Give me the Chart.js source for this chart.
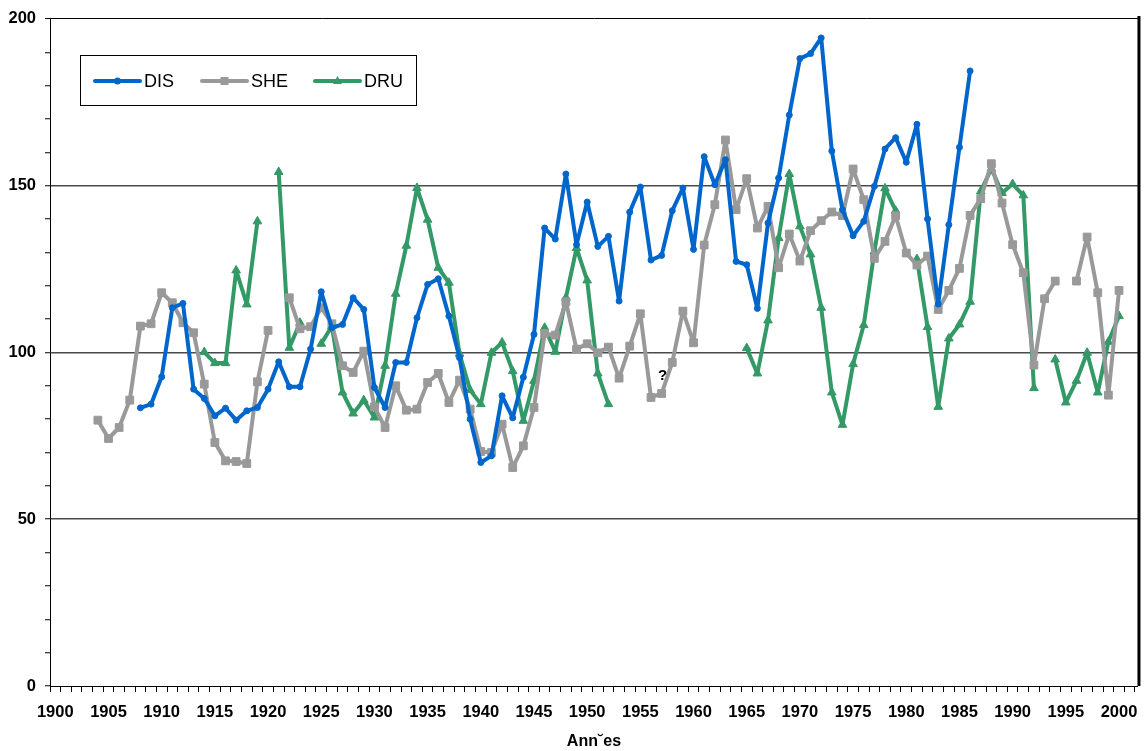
<!DOCTYPE html>
<html>
<head>
<meta charset="utf-8">
<title>DIS SHE DRU</title>
<script src="https://cdn.jsdelivr.net/npm/chart.js@4/dist/chart.umd.min.js"></script>
<style>
  html, body { margin: 0; padding: 0; background: #fff; }
  #wrap { width: 1146px; height: 751px; }
</style>
</head>
<body>
<div id="wrap"><canvas id="chart" width="1146" height="751"></canvas></div>
<script>
// years on the axis that carry a series value
const years = [
  1904, 1905, 1906, 1907, 1908, 1909,
  1910, 1911, 1912, 1913, 1914, 1915, 1916, 1917, 1918, 1919,
  1920, 1921, 1922, 1923, 1924, 1925, 1926, 1927, 1928, 1929,
  1930, 1931, 1932, 1933, 1934, 1935, 1936, 1937, 1938, 1939,
  1940, 1941, 1942, 1943, 1944, 1945, 1946, 1947, 1948, 1949,
  1950, 1951, 1952, 1953, 1954, 1955, 1956, 1957, 1958, 1959,
  1960, 1961, 1962, 1963, 1964, 1965, 1966, 1967, 1968, 1969,
  1970, 1971, 1972, 1973, 1974, 1975, 1976, 1977, 1978, 1979,
  1980, 1981, 1982, 1983, 1984, 1985, 1986, 1987, 1988, 1989,
  1990, 1991, 1992, 1993, 1994, 1995, 1996, 1997, 1998, 1999,
  2000
];

const dis = [
  null, null, null, null, 83.4, 84.5,
  92.7, 113.4, 114.7, 89, 86.2, 81, 83.3, 79.7, 82.5, 83.5,
  89, 97.2, 89.7, 89.7, 101, 118.2, 107.4, 108.4, 116.4, 112.9,
  89.5, 83.5, 97, 97, 110.4, 120.4, 122.1, 110.9, 98.4, 80,
  67, 69, 87, 80.4, 92.6, 105.4, 137.3, 134, 153.5, 132.3,
  145.1, 131.8, 134.8, 115.4, 142.1, 149.6, 127.7, 129.1, 142.5, 149.3,
  130.9, 158.7, 150.3, 157.8, 127.3, 126.3, 113.2, 138.8, 152.3, 171.2,
  188.1, 189.6, 194.3, 160.4, 142.8, 135, 139.3, 149.8, 161, 164.4,
  157, 168.4, 140, 114.5, 138.3, 161.5, 184.4, null, null, null,
  null, null, null, null, null, null, null, null, null, null,
  null
];

const she = [
  79.7, 74.2, 77.5, 85.7, 107.9, 108.6,
  117.9, 114.9, 108.9, 105.9, 90.5, 73, 67.5, 67.3, 66.7, 91.2,
  106.6, null, 116.4, 107.1, 107.7, 113.4, 108.6, 96, 94, 100.4,
  83.7, 77.5, 90, 82.7, 83, 91, 93.7, 85, 91.7, 83,
  70.3, 70, 78.5, 65.5, 72, 83.5, 105.7, 105.2, 115.2, 101,
  102.6, 99.9, 101.6, 92.3, 101.9, 111.6, 86.5, 87.7, 97, 112.4,
  102.9, 132.2, 144.3, 163.7, 142.8, 152.1, 137.3, 143.8, 125.4, 135.5,
  127.4, 136.5, 139.5, 142.1, 141, 155, 145.8, 128.2, 133.3, 141,
  129.8, 126.2, 128.9, 112.9, 118.6, 125.2, 141.1, 146.1, 156.6, 144.8,
  132.3, 123.9, 96.2, 116.1, 121.4, null, 121.4, 134.6, 117.9, 87.2,
  118.6
];

const dru = [
  null, null, null, null, null, null,
  null, null, null, null, 100.1, 96.8, 96.8, 124.6, 114.4, 139.3,
  null, 154.1, 101.4, 108.9, null, 102.6, 107.9, 88, 81.7, 85.7,
  80.5, 96, 117.6, 132, 149.3, 139.8, 125.4, 120.9, 99.6, 88.7,
  84.5, 99.9, 103, 94.4, 79.5, 91.5, 107.4, 100.2, 116.4, 131.3,
  121.6, 93.7, 84.5, null, null, null, null, null, null, null,
  null, null, null, null, null, 101.3, 93.7, 109.6, 134.3, 153.5,
  137.8, 129.4, 113.4, 88, 78.3, 96.5, 108.2, 130.3, 149.2, 142.5,
  null, 128, 107.6, 83.7, 104.2, 108.4, 115.2, 148.3, 155.1, 147.8,
  150.5, 147.1, 89.3, null, 97.9, 85, 91.5, 99.9, 88, 103.2,
  110.9
];

const seriesNames = ['DIS', 'SHE', 'DRU'];
const xLabelYears = [1900, 1905, 1910, 1915, 1920, 1925, 1930, 1935, 1940, 1945, 1950,
                     1955, 1960, 1965, 1970, 1975, 1980, 1985, 1990, 1995, 2000];
const yLabels = [0, 50, 100, 150, 200];
const axisTitle = 'Ann˘es';
const note = { text: '?', year: 1957.1, value: 93 };

const FONT = '"Liberation Sans", Arial, Helvetica, sans-serif';
Chart.defaults.font.family = FONT;
Chart.defaults.color = '#000';

const colors = ['#0066cc', '#999999', '#339966'];

// boxed legend inside the plot, like the spreadsheet original
const boxLegend = {
  id: 'boxLegend',
  afterDraw(chart) {
    const ctx = chart.ctx;
    const area = chart.chartArea;
    ctx.save();

    // right frame of the plot
    ctx.strokeStyle = '#000';
    ctx.lineWidth = 3;
    ctx.beginPath();
    ctx.moveTo(area.right + 1, area.top - 3);
    ctx.lineTo(area.right + 1, area.bottom);
    ctx.stroke();

    const bx = 80.5, by = 55.5, bw = 336, bh = 50;
    ctx.fillStyle = '#fff';
    ctx.fillRect(bx, by, bw, bh);
    ctx.strokeStyle = '#000';
    ctx.lineWidth = 1;
    ctx.strokeRect(bx, by, bw, bh);

    const starts = [95, 202, 315];
    const cy = 81;
    chart.data.datasets.forEach((ds, i) => {
      const x0 = starts[i];
      ctx.strokeStyle = ds.borderColor;
      ctx.lineWidth = 4;
      ctx.lineCap = 'round';
      ctx.beginPath();
      ctx.moveTo(x0, cy);
      ctx.lineTo(x0 + 45, cy);
      ctx.stroke();

      const mx = x0 + 22.5;
      ctx.fillStyle = ds.borderColor;
      ctx.beginPath();
      if (ds.pointStyle === 'rect') {
        ctx.rect(mx - 4, cy - 4, 8, 8);
      } else if (ds.pointStyle === 'triangle') {
        ctx.moveTo(mx, cy - 5);
        ctx.lineTo(mx + 4.5, cy + 3);
        ctx.lineTo(mx - 4.5, cy + 3);
        ctx.closePath();
      } else {
        ctx.arc(mx, cy, 3.5, 0, Math.PI * 2);
      }
      ctx.fill();

      ctx.fillStyle = '#000';
      ctx.font = '18px ' + FONT;
      ctx.textAlign = 'left';
      ctx.textBaseline = 'middle';
      ctx.fillText(ds.label, x0 + 49, cy + 1);
    });

    // the question mark written next to the 1957 value
    const xs = chart.scales.x, ys = chart.scales.y;
    ctx.font = 'bold 15px ' + FONT;
    ctx.textAlign = 'center';
    ctx.fillText(note.text, xs.getPixelForValue(note.year), ys.getPixelForValue(note.value));
    ctx.restore();
  }
};

function ds(label, data, color, style, radius) {
  return {
    label: label,
    data: data,
    borderColor: color,
    backgroundColor: color,
    borderWidth: 4,
    borderJoinStyle: 'round',
    borderCapStyle: 'round',
    pointStyle: style,
    pointRadius: radius,
    pointHoverRadius: radius,
    pointBackgroundColor: color,
    pointBorderColor: color,
    pointBorderWidth: 1,
    tension: 0,
    spanGaps: false
  };
}

new Chart(document.getElementById('chart'), {
  type: 'line',
  data: {
    labels: years,
    datasets: [
      ds(seriesNames[0], dis, colors[0], 'circle', 3),
      ds(seriesNames[1], she, colors[1], 'rect', 5.5),
      ds(seriesNames[2], dru, colors[2], 'triangle', 5)
    ]
  },
  options: {
    responsive: false,
    animation: false,
    layout: { padding: { top: 17, right: 5, left: 0, bottom: 0 } },
    plugins: {
      legend: { display: false },
      tooltip: { enabled: false }
    },
    scales: {
      x: {
        type: 'linear',
        min: 1899.5,
        max: 2001.78,
        afterBuildTicks: s => {
          const t = [];
          for (let v = 1899.5; v <= 2001.5; v += 1) t.push({ value: v });
          s.ticks = t;
        },
        afterFit: s => { s.height = 65; },
        grid: { drawOnChartArea: false, drawTicks: true, tickLength: 6, tickColor: '#000', tickWidth: 1 },
        border: { display: true, color: '#000', width: 1 },
        ticks: {
          autoSkip: false,
          maxRotation: 0,
          minRotation: 0,
          labelOffset: 5.3,
          padding: 11,
          color: '#000',
          font: { size: 16.5, weight: 'bold' },
          callback: v => {
            const yr = Math.round(v + 0.5);
            return xLabelYears.includes(yr) ? String(yr) : '';
          }
        },
        title: {
          display: true,
          text: axisTitle,
          color: '#000',
          font: { size: 16, weight: 'bold' },
          padding: { top: 0, bottom: 0 }
        }
      },
      y: {
        min: 0,
        max: 200,
        afterFit: s => { s.width = 50; },
        grid: {
          drawTicks: true,
          tickLength: 5,
          tickColor: '#000',
          tickWidth: 1,
          color: c => {
            const v = c.tick.value;
            if (v === 200) return '#000';
            if (v > 0 && v % 50 === 0) return '#4a4a4a';
            return 'rgba(0,0,0,0)';
          },
          lineWidth: c => (c.tick.value === 200 ? 1 : 1.5)
        },
        border: { display: true, color: '#000', width: 1 },
        ticks: {
          stepSize: 10,
          autoSkip: false,
          padding: 9,
          color: '#000',
          font: { size: 16.5, weight: 'bold' },
          callback: v => (yLabels.includes(v) ? String(v) : '')
        }
      }
    }
  },
  plugins: [boxLegend]
});
</script>
</body>
</html>
